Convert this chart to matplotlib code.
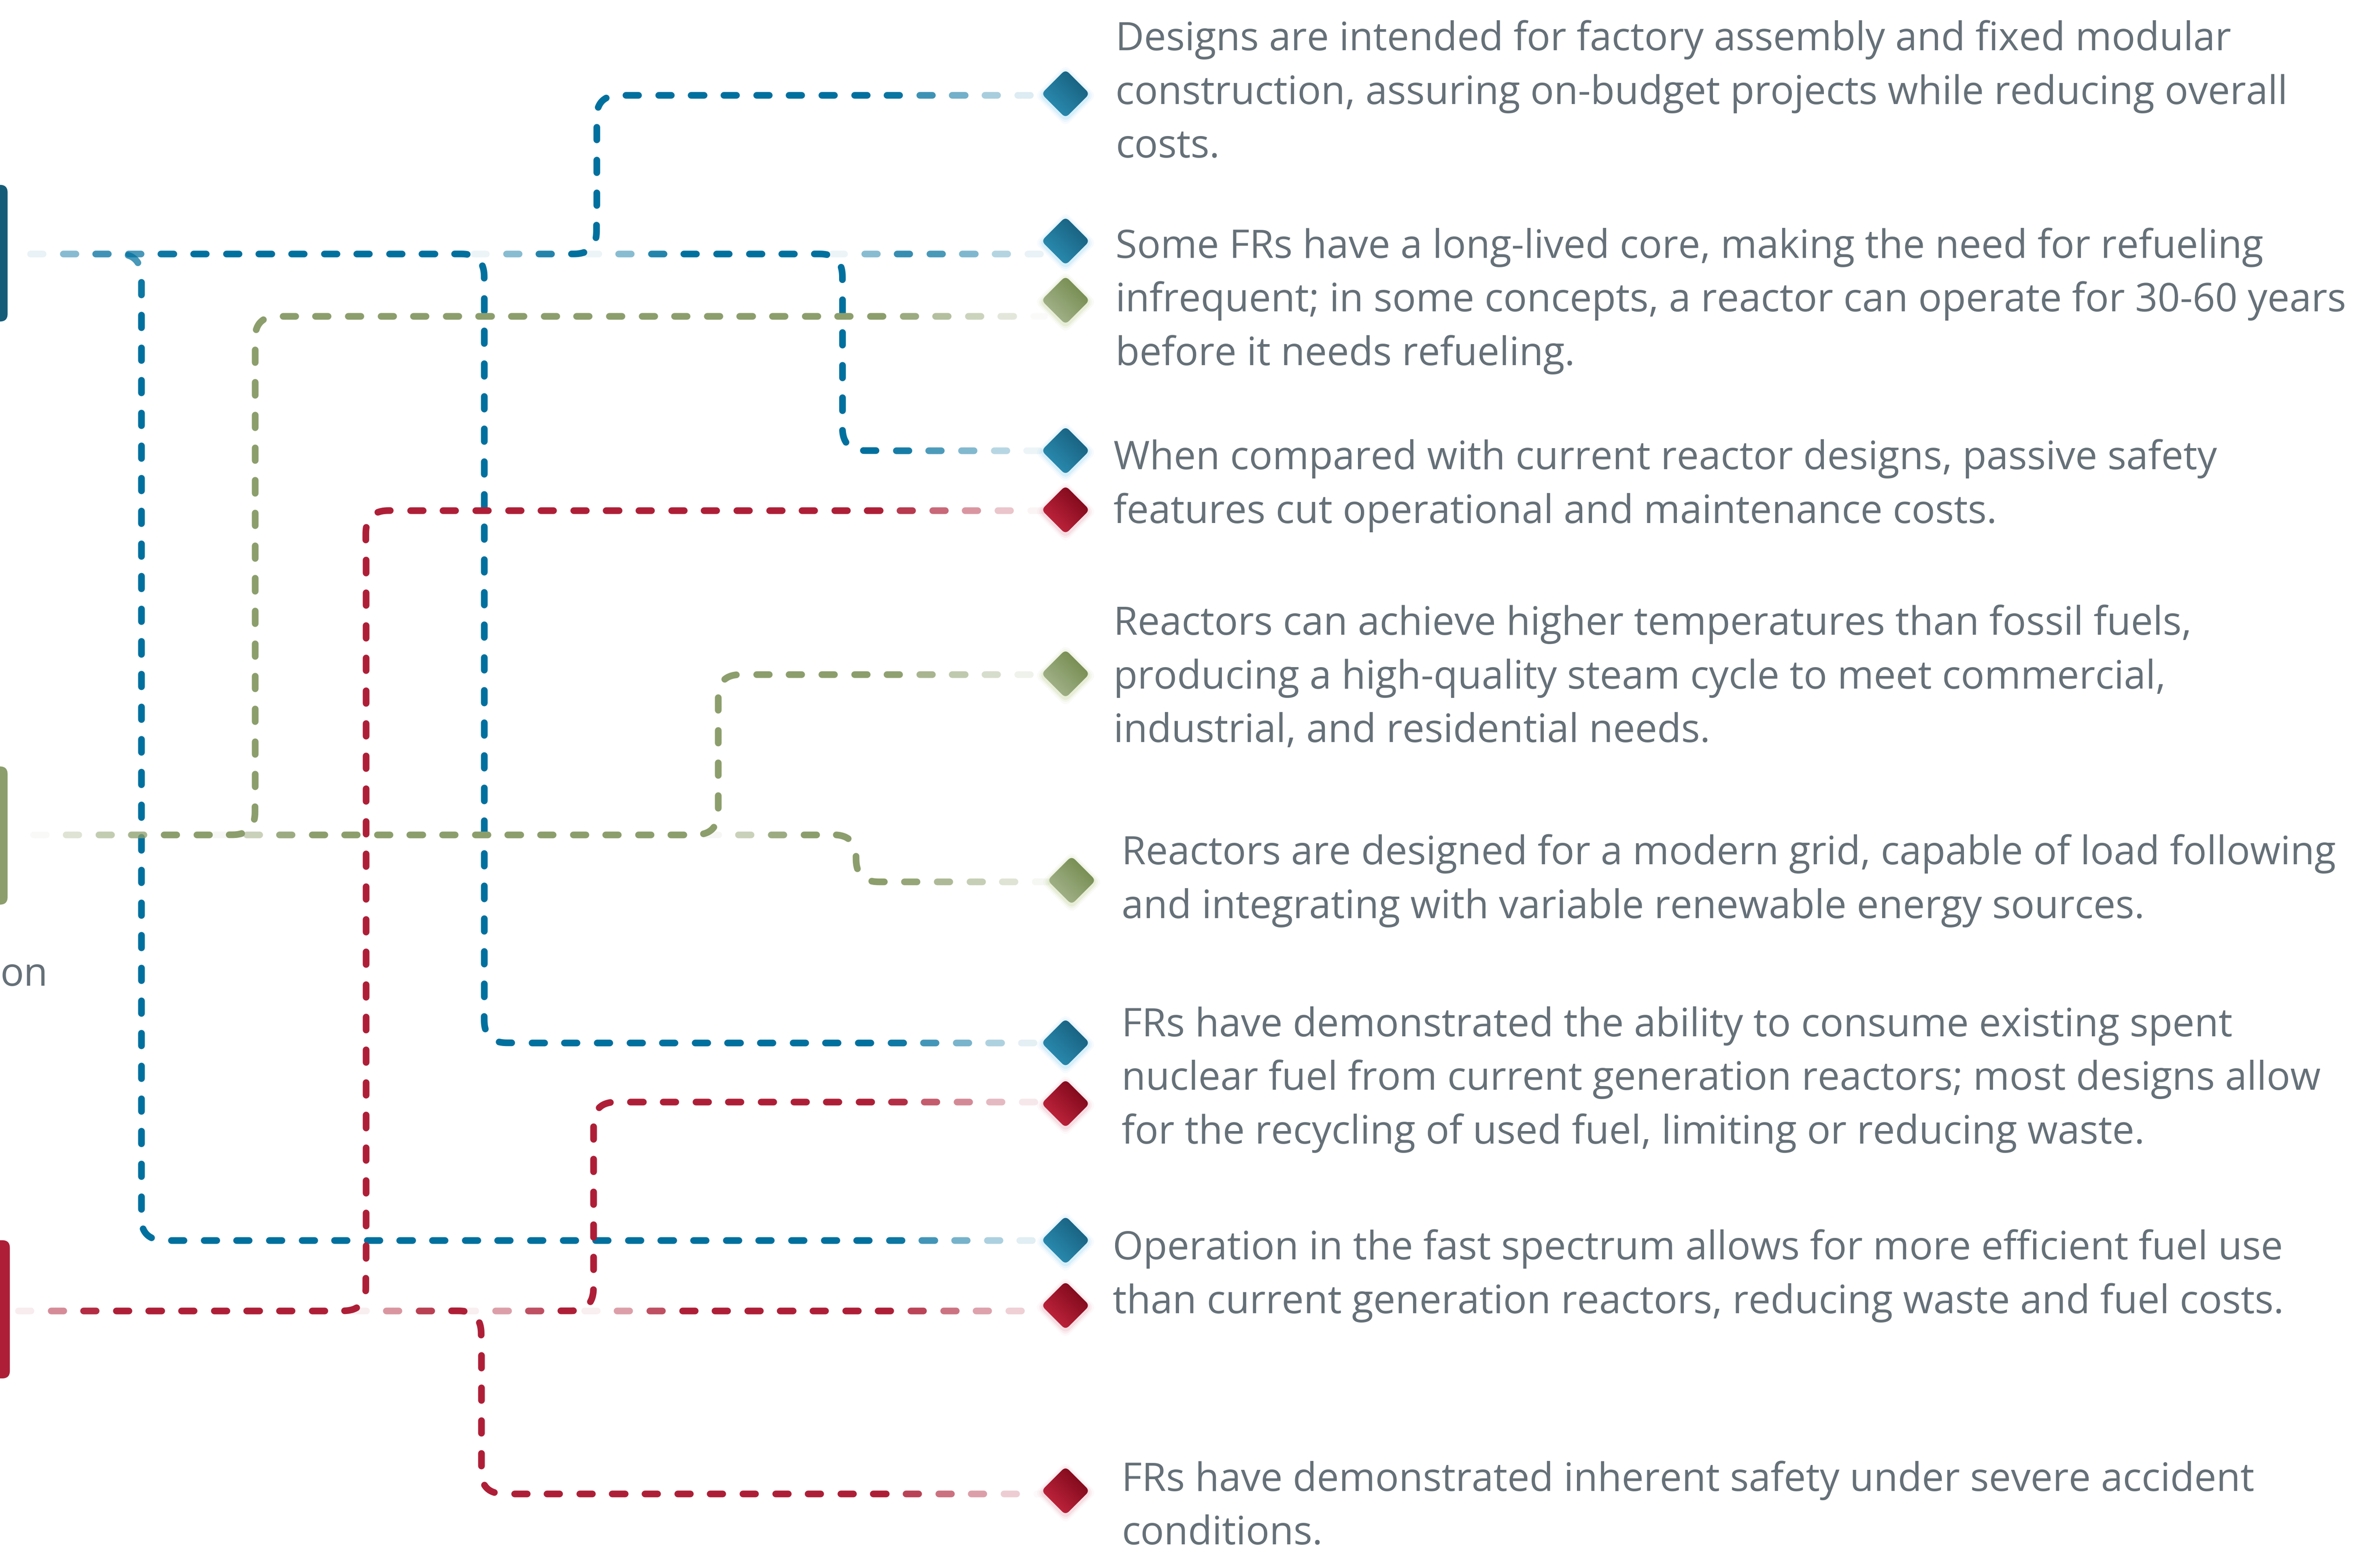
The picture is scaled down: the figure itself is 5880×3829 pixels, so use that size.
import numpy as np
import matplotlib
matplotlib.use("Agg")
import matplotlib.pyplot as plt
from matplotlib.collections import LineCollection
from matplotlib.patches import FancyBboxPatch, Polygon
from matplotlib.colors import to_rgb

# canvas in reference units (1 unit = 3.75 px of the output)
W, H = 1568, 1021
FONT = ['Open Sans', 'DejaVu Sans']
text_color = '#657078'

# three groups: blue, green, red
line_colors = ['#00709E', '#8C9E6C', '#AE1F37']
box_colors = ['#155C78', '#8C9E6C', '#AE1F37']
dia_dark = ['#135370', '#66803E', '#6A0010']
dia_light = ['#2D93B9', '#ABB994', '#CB2942']
glow_colors = ['#8FD3F2', '#BCD08E', '#E8A2B0']

box_top = [122, 505, 817]
box_bottom = [212, 596, 908]
box_right = [5, 5, 6.5]
trunk_y = [167.5, 550, 863.5]

# connectors: group, where the dashes start on the trunk, x of the vertical run, y of the last run
conn_group = [0, 0, 0, 0, 0, 1, 1, 1, 2, 2, 2, 2]
conn_start = [20, 20, 312, 386, 548, 22, 141, 465, 12, 233, 305, 385]
conn_turn = [93, 319, 393, 555, None, 168, 473, 564, 241, 317, 391, None]
conn_end_y = [817, 687, 63, 297, 167.5, 208.5, 444.5, 581, 336.5, 984, 726, 863.5]
conn_end_x = [688, 688, 688, 688, 690, 688, 688, 694, 688, 688, 688, 690]
conn_fade_in = [95, 95, 55, 55, 55, 90, 55, 55, 50, 55, 60, 60]

# diamonds
dia_group = [0, 0, 1, 0, 2, 1, 1, 0, 2, 0, 2, 2]
dia_x = [702, 702, 702, 702, 702, 702, 706, 702, 702, 702, 702, 702]
dia_y = [62, 159, 198, 297, 336, 444, 580, 687, 727, 817, 860, 982]

# texts
text_x = [735, 735, 733.5, 733.5, 739, 739, 733, 739]
text_base = [33.1, 169.8, 309, 418.1, 569.2, 682.4, 829.4, 981.7]
text_lines = [
    ["Designs are intended for factory assembly and fixed modular",
     "construction, assuring on-budget projects while reducing overall",
     "costs."],
    ["Some FRs have a long-lived core, making the need for refueling",
     "infrequent; in some concepts, a reactor can operate for 30-60 years",
     "before it needs refueling."],
    ["When compared with current reactor designs, passive safety",
     "features cut operational and maintenance costs."],
    ["Reactors can achieve higher temperatures than fossil fuels,",
     "producing a high-quality steam cycle to meet commercial,",
     "industrial, and residential needs."],
    ["Reactors are designed for a modern grid, capable of load following",
     "and integrating with variable renewable energy sources."],
    ["FRs have demonstrated the ability to consume existing spent",
     "nuclear fuel from current generation reactors; most designs allow",
     "for the recycling of used fuel, limiting or reducing waste."],
    ["Operation in the fast spectrum allows for more efficient fuel use",
     "than current generation reactors, reducing waste and fuel costs."],
    ["FRs have demonstrated inherent safety under severe accident",
     "conditions."],
]
line_step = 35.3
FS = 69.8

PT = 3.75 * 72 / 100   # points per reference unit
DASH_ON, DASH_PERIOD, DASH_W = 8.3, 21.5, 4.4
FADE_OUT = 103
CORNER = 15


def rounded_route(pts, r):
    pts = [np.array(p, float) for p in pts]
    out = [pts[0]]
    for i in range(1, len(pts) - 1):
        p0, p1, p2 = pts[i - 1], pts[i], pts[i + 1]
        l1 = np.linalg.norm(p1 - p0)
        l2 = np.linalg.norm(p2 - p1)
        if l1 < 1e-6 or l2 < 1e-6:
            continue
        rr = min(r, l1 / 2, l2 / 2)
        a = p1 - (p1 - p0) / l1 * rr
        b = p1 + (p2 - p1) / l2 * rr
        t = np.linspace(0, 1, 24)[:, None]
        out.extend((1 - t) ** 2 * a + 2 * (1 - t) * t * p1 + t ** 2 * b)
    out.append(pts[-1])
    return np.array(out)


def rounded_polygon(verts, r):
    verts = [np.array(v, float) for v in verts]
    n = len(verts)
    out = []
    for i in range(n):
        p0, p1, p2 = verts[i - 1], verts[i], verts[(i + 1) % n]
        a = p1 + (p0 - p1) / np.linalg.norm(p0 - p1) * r
        b = p1 + (p2 - p1) / np.linalg.norm(p2 - p1) * r
        t = np.linspace(0, 1, 12)[:, None]
        out.extend((1 - t) ** 2 * a + 2 * (1 - t) * t * p1 + t ** 2 * b)
    return np.array(out)


def dashed(ax, pts, color, fade_in):
    seg = np.hypot(np.diff(pts[:, 0]), np.diff(pts[:, 1]))
    s = np.concatenate([[0], np.cumsum(seg)])
    L = s[-1]
    rgb = to_rgb(color)
    segs, cols = [], []
    d = 0.0
    while d < L:
        d1 = min(d + DASH_ON, L)
        dm = (d + d1) / 2
        a = np.clip(dm / fade_in, 0, 1) * np.clip((L - dm) / FADE_OUT, 0, 1)
        if a > 0.02:
            ss = np.linspace(d, d1, 8)
            segs.append(np.column_stack([np.interp(ss, s, pts[:, 0]),
                                         np.interp(ss, s, pts[:, 1])]))
            cols.append((*rgb, a))
        d += DASH_PERIOD
    lc = LineCollection(segs, colors=cols, linewidths=DASH_W * PT,
                        capstyle='round', joinstyle='round', zorder=2)
    ax.add_collection(lc)


fig = plt.figure(figsize=(58.8, 38.3), dpi=100)
fig.patch.set_facecolor('white')
ax = fig.add_axes([0, 0, 1, 1])
ax.set_xlim(0, W)
ax.set_ylim(H, 0)
ax.axis('off')

# group boxes on the left edge
for g in range(3):
    ax.add_patch(FancyBboxPatch((-30, box_top[g]), box_right[g] + 30,
                                box_bottom[g] - box_top[g],
                                boxstyle="round,pad=0,rounding_size=5",
                                fc=box_colors[g], ec='none', zorder=3))

# dashed connectors
for i in range(len(conn_group)):
    g = conn_group[i]
    y0 = trunk_y[g]
    if conn_turn[i] is None:
        route = [(conn_start[i], y0), (conn_end_x[i], conn_end_y[i])]
    else:
        route = [(conn_start[i], y0), (conn_turn[i], y0),
                 (conn_turn[i], conn_end_y[i]), (conn_end_x[i], conn_end_y[i])]
    dashed(ax, rounded_route(route, CORNER), line_colors[g], conn_fade_in[i])

# diamonds with a gradient fill and a soft glow
hd = 15.9
n = 64
tt = np.linspace(0, 1, n)
rows, cols_ = np.meshgrid(tt, tt, indexing='ij')
tgrid = np.clip((rows + (1 - cols_)) / 2 * 1.1, 0, 1)
for i in range(len(dia_y)):
    g = dia_group[i]
    cx, cy = dia_x[i], dia_y[i]
    for ext, al in [(4.5, 0.07), (3.0, 0.12), (1.6, 0.2)]:
        h2 = hd + ext
        gv = [(cx, cy + 1.2 - h2), (cx + h2, cy + 1.2), (cx, cy + 1.2 + h2), (cx - h2, cy + 1.2)]
        ax.add_patch(Polygon(rounded_polygon(gv, 4.5), closed=True, fc=glow_colors[g],
                             ec='none', alpha=al, zorder=4))
    verts = [(cx, cy - hd), (cx + hd, cy), (cx, cy + hd), (cx - hd, cy)]
    poly = Polygon(rounded_polygon(verts, 3.4), closed=True, fc='none', ec='none', zorder=5)
    ax.add_patch(poly)
    c0 = np.array(to_rgb(dia_dark[g]))
    c1 = np.array(to_rgb(dia_light[g]))
    img = c0[None, None, :] * (1 - tgrid[..., None]) + c1[None, None, :] * tgrid[..., None]
    im = ax.imshow(img, extent=(cx - hd, cx + hd, cy + hd, cy - hd), origin='upper',
                   interpolation='bilinear', zorder=5)
    im.set_clip_path(poly)

ax.set_aspect('auto')
ax.set_xlim(0, W)
ax.set_ylim(H, 0)

# description texts
for i, lines in enumerate(text_lines):
    for j, line in enumerate(lines):
        ax.text(text_x[i], text_base[i] + j * line_step, line, fontsize=FS,
                color=text_color, family=FONT, ha='left', va='baseline', zorder=6)

# partly visible label at the left edge
ax.text(0.3, 649, "on", fontsize=FS, color=text_color, family=FONT,
        ha='left', va='baseline', zorder=6)

fig.savefig("out.png", dpi=100, facecolor='white')
